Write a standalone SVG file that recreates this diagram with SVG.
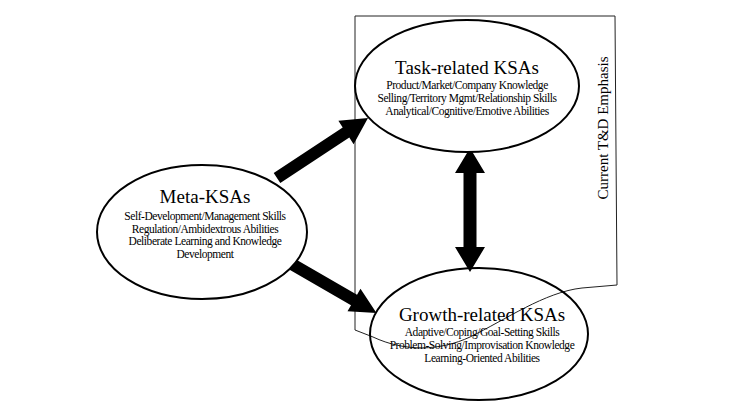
<svg xmlns="http://www.w3.org/2000/svg" width="730" height="410" viewBox="0 0 730 410">
<style>
.bg{fill:#ffffff}
.node ellipse{fill:#ffffff;stroke:#000000;stroke-width:2}
.title{font-family:"Liberation Serif","Times New Roman",serif;font-size:19px;fill:#000000;text-anchor:middle}
.item{font-family:"Liberation Serif","Times New Roman",serif;font-size:11.5px;letter-spacing:-0.45px;fill:#000000;text-anchor:middle}
.region{fill:none;stroke:#222222;stroke-width:1}
.label{font-family:"Liberation Serif","Times New Roman",serif;font-size:15px;fill:#000000;text-anchor:middle}
.arrow{fill:#000000;stroke:none}
</style>
<rect class="bg" x="0" y="0" width="730" height="410"/>
<g id="emphasis-region">
<path class="region" d="M355,330 L355,16 L615,16 L617,285 L582,288 C545,292 505,320 470,337 C440,351 405,352 373,337 Z"/>
<text class="label" transform="translate(608,128) rotate(-90)">Current T&amp;D Emphasis</text>
</g>
<g id="connectors">
<polygon class="arrow" points="273.7,173 342.7,127.5 338.4,120.8 368,118 353.6,144.2 349.3,137.5 280.3,183"/>
<polygon class="arrow" points="293,257.8 357,294.8 360.5,288.7 376.5,313 347.5,311.3 351,305.2 287,268.2"/>
<polygon class="arrow" points="470,148 485,173 476.5,173 476.5,247 485,247 470,272 455,247 463.5,247 463.5,173 455,173"/>
</g>
<g id="task" class="node">
<ellipse cx="467" cy="86" rx="112" ry="66"/>
<text class="title" x="467" y="74">Task-related KSAs</text>
<text class="item" x="467" y="89">Product/Market/Company Knowledge</text>
<text class="item" x="467" y="102">Selling/Territory Mgmt/Relationship Skills</text>
<text class="item" x="467" y="115">Analytical/Cognitive/Emotive Abilities</text>
</g>
<g id="meta" class="node">
<ellipse cx="202" cy="232" rx="105" ry="67"/>
<text class="title" x="205" y="203">Meta-KSAs</text>
<text class="item" x="205" y="220">Self-Development/Management Skills</text>
<text class="item" x="205" y="233">Regulation/Ambidextrous Abilities</text>
<text class="item" x="205" y="245">Deliberate Learning and Knowledge</text>
<text class="item" x="205" y="258">Development</text>
</g>
<g id="growth" class="node">
<ellipse cx="479" cy="334" rx="109" ry="66" style="fill:none"/>
<text class="title" x="482" y="321">Growth-related KSAs</text>
<text class="item" x="482" y="336">Adaptive/Coping/Goal-Setting Skills</text>
<text class="item" x="482" y="349">Problem-Solving/Improvisation Knowledge</text>
<text class="item" x="482" y="362">Learning-Oriented Abilities</text>
</g>
</svg>
